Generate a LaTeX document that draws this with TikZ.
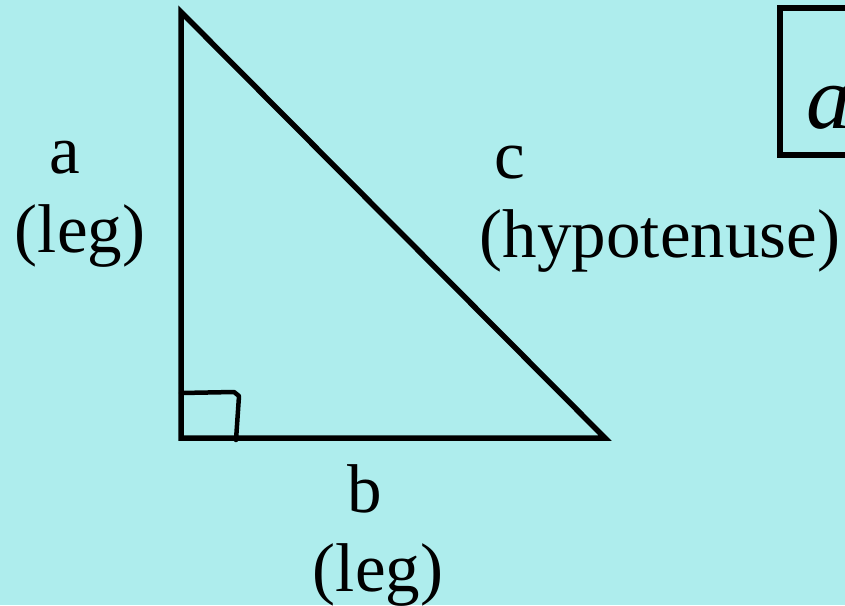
\documentclass[tikz,border=0pt]{standalone}
\usepackage{fontspec}
\setmainfont{Liberation Serif}
\definecolor{bgcyan}{HTML}{AEEDED}
\begin{document}
\begin{tikzpicture}[x=1pt,y=-1pt,
  edge/.style={line width=5.5pt,line join=miter},
  lbl/.style={font=\fontsize{69}{79}\selectfont,inner sep=0pt,align=center,text depth=0pt},
]
\fill[bgcyan] (0,0) rectangle (845,605);
\useasboundingbox (0,0) rectangle (845,605);
\begin{scope}
\clip (0,0) rectangle (845,605);
% vertices
\coordinate (T) at (181,12);
\coordinate (C) at (181,438);
\coordinate (R) at (605,438);
\draw[edge] (T) -- (C) -- (R) -- cycle;
% right angle marker
\coordinate (m1) at (181,393);
\coordinate (m2) at (234,392);
\coordinate (m3) at (239,396);
\coordinate (m4) at (236,440);
\draw[line width=4.5pt,line cap=round,line join=round] (m1) -- (m2) -- (m3) -- (m4);
% formula box (cut off at right)
\draw[line width=5.5pt] (900,8) -- (780,8) -- (780,155) -- (900,155);
\node[anchor=base west,inner sep=0pt,font=\fontsize{90}{90}\selectfont] (f) at (806,128) {\textit{a}};
\end{scope}
% labels
\node[lbl,anchor=base] (a) at (65,173) {a};
\node[lbl,anchor=base] (aleg) at (80,252) {(leg)};
\node[lbl,anchor=base] (c) at (510,178) {c};
\node[lbl,anchor=base] (chyp) at (660,257) {(hypotenuse)};
\node[lbl,anchor=base] (b) at (365,512) {b};
\node[lbl,anchor=base] (bleg) at (378,591) {(leg)};
\end{tikzpicture}
\end{document}
